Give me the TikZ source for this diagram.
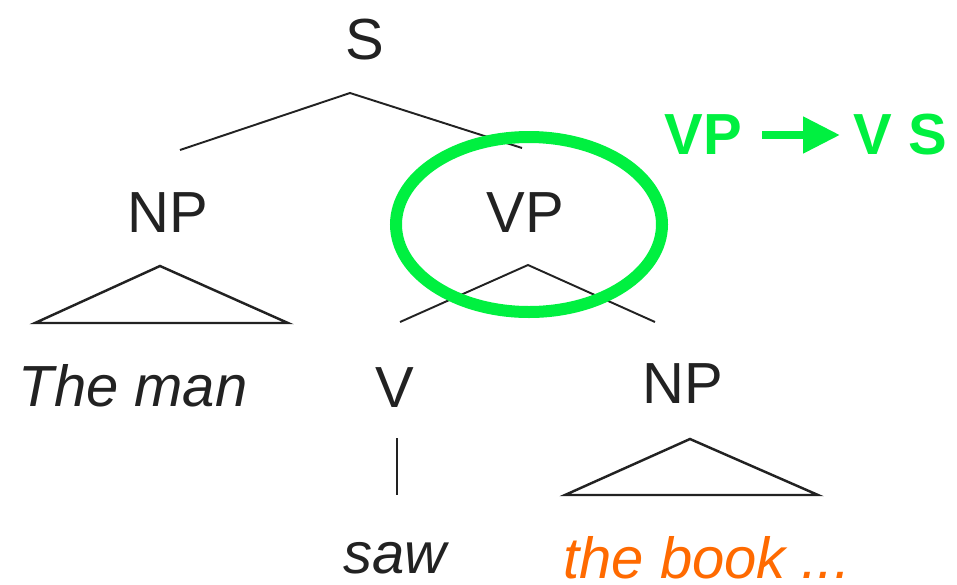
\documentclass[tikz,border=0pt]{standalone}
\usepackage{fontspec}
\setmainfont{Liberation Sans}
\usetikzlibrary{arrows.meta}
\definecolor{ink}{HTML}{222222}
\definecolor{hilite}{HTML}{00F040}
\definecolor{leaf}{HTML}{FF6A00}
\begin{document}
\begin{tikzpicture}[x=0.02cm,y=-0.02cm,
  cat/.style={inner sep=0pt,text=ink,font=\fontsize{33}{38}\selectfont},
  word/.style={cat,font=\fontsize{33}{38}\selectfont\itshape},
  branch/.style={draw=ink,line width=1.1pt},
  roof/.style={draw=ink,line width=1.4pt,line join=miter},
  rule/.style={inner sep=0pt,text=hilite,font=\fontsize{33}{38}\selectfont\bfseries}]
\useasboundingbox (0,0) rectangle (957,585);
% categories
\node[cat] (s) at (365,40) {S};
\node[cat] (np1) at (168,213) {NP};
\node[cat] (vp) at (525,213) {VP};
\node[cat] (v) at (395,388) {V};
\node[cat] (np2) at (683,384) {NP};
% words
\node[word] (theman) at (133,386) {The man};
\node[word] (saw) at (395,558) {saw};
\node[word,text=leaf,anchor=west] (thebook) at (563,558) {the book ...};
% branches under S
\coordinate (sroot) at (350,93);
\coordinate (sl) at (180,150);
\coordinate (sr) at (522,148);
\draw[branch] (sl) -- (sroot) -- (sr);
% roof over "The man"
\coordinate (t1a) at (160,266);
\coordinate (t1l) at (35,323);
\coordinate (t1r) at (288,323);
\draw[roof] (t1a) -- (t1l) -- (t1r) -- cycle;
% branches under VP
\coordinate (vproot) at (528,265);
\coordinate (vpl) at (400,322);
\coordinate (vpr) at (655,322);
\draw[branch] (vpl) -- (vproot) -- (vpr);
% V to "saw"
\coordinate (vtop) at (397,438);
\coordinate (vbot) at (397,495);
\draw[branch] (vtop) -- (vbot);
% roof over "the book ..."
\coordinate (t2a) at (690,439);
\coordinate (t2l) at (565,495);
\coordinate (t2r) at (818,495);
\draw[roof] (t2a) -- (t2l) -- (t2r) -- cycle;
% highlight ring round VP
\coordinate (ring) at (529,224.5);
\draw[hilite,line width=12*0.02cm] (ring) ellipse [x radius=133*0.02cm, y radius=87.5*0.02cm];
% rewrite rule
\node[rule,anchor=west] (lhs) at (664,135) {VP};
\node[rule,anchor=west] (rhs) at (853,135) {V S};
\draw[hilite,line width=0.16cm,-{Triangle[length=0.74cm,width=0.7cm]}] (762,135) -- (840,135);
\end{tikzpicture}
\end{document}
